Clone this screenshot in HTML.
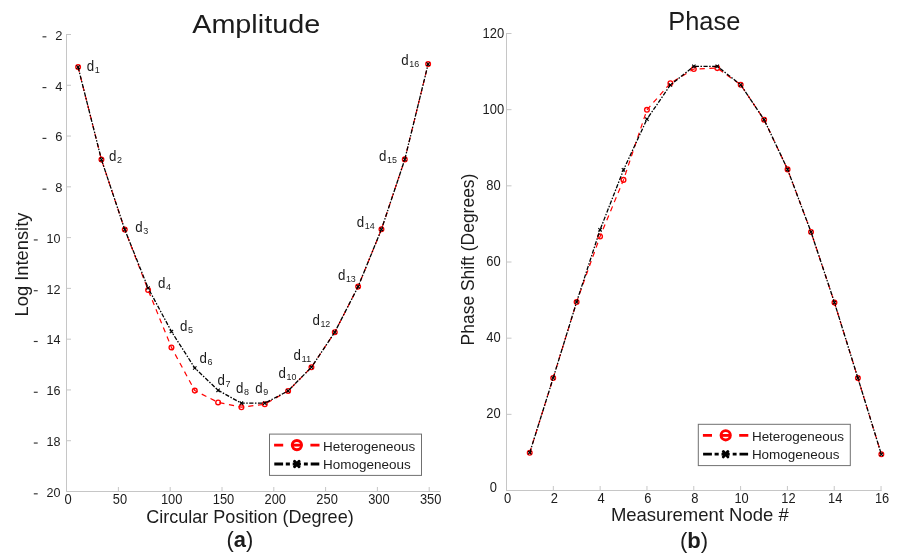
<!DOCTYPE html><html><head><meta charset="utf-8"><title>chart</title><style>html,body{margin:0;padding:0;background:#fff}svg{display:block;will-change:transform;opacity:0.999}text{font-family:"Liberation Sans",sans-serif;fill:#1c1c1c}</style></head><body>
<svg width="906" height="557" viewBox="0 0 906 557">
<rect width="906" height="557" fill="#fff"/>
<line x1="66.50" y1="34.00" x2="66.50" y2="492.00" stroke="#c6c6c6" stroke-width="1"/>
<line x1="66.00" y1="491.50" x2="440.30" y2="491.50" stroke="#c6c6c6" stroke-width="1"/>
<line x1="66.50" y1="34.50" x2="71.00" y2="34.50" stroke="#c6c6c6" stroke-width="1"/>
<text x="62.50" y="39.80" font-size="13.4" text-anchor="end" textLength="7.2" lengthAdjust="spacingAndGlyphs" fill="#333333">2</text>
<rect x="42.50" y="36.25" width="3.9" height="1.15" fill="#333333"/>
<line x1="66.50" y1="85.28" x2="71.00" y2="85.28" stroke="#c6c6c6" stroke-width="1"/>
<text x="62.50" y="90.58" font-size="13.4" text-anchor="end" textLength="7.2" lengthAdjust="spacingAndGlyphs" fill="#333333">4</text>
<rect x="42.50" y="87.03" width="3.9" height="1.15" fill="#333333"/>
<line x1="66.50" y1="136.06" x2="71.00" y2="136.06" stroke="#c6c6c6" stroke-width="1"/>
<text x="62.50" y="141.36" font-size="13.4" text-anchor="end" textLength="7.2" lengthAdjust="spacingAndGlyphs" fill="#333333">6</text>
<rect x="42.50" y="137.81" width="3.9" height="1.15" fill="#333333"/>
<line x1="66.50" y1="186.83" x2="71.00" y2="186.83" stroke="#c6c6c6" stroke-width="1"/>
<text x="62.50" y="192.13" font-size="13.4" text-anchor="end" textLength="7.2" lengthAdjust="spacingAndGlyphs" fill="#333333">8</text>
<rect x="42.50" y="188.58" width="3.9" height="1.15" fill="#333333"/>
<line x1="66.50" y1="237.61" x2="71.00" y2="237.61" stroke="#c6c6c6" stroke-width="1"/>
<text x="60.60" y="242.91" font-size="13.4" text-anchor="end" textLength="14.0" lengthAdjust="spacingAndGlyphs" fill="#333333">10</text>
<rect x="33.80" y="239.36" width="3.9" height="1.15" fill="#333333"/>
<line x1="66.50" y1="288.39" x2="71.00" y2="288.39" stroke="#c6c6c6" stroke-width="1"/>
<text x="60.60" y="293.69" font-size="13.4" text-anchor="end" textLength="14.0" lengthAdjust="spacingAndGlyphs" fill="#333333">12</text>
<rect x="33.80" y="290.14" width="3.9" height="1.15" fill="#333333"/>
<line x1="66.50" y1="339.17" x2="71.00" y2="339.17" stroke="#c6c6c6" stroke-width="1"/>
<text x="60.60" y="344.47" font-size="13.4" text-anchor="end" textLength="14.0" lengthAdjust="spacingAndGlyphs" fill="#333333">14</text>
<rect x="33.80" y="340.92" width="3.9" height="1.15" fill="#333333"/>
<line x1="66.50" y1="389.94" x2="71.00" y2="389.94" stroke="#c6c6c6" stroke-width="1"/>
<text x="60.60" y="395.24" font-size="13.4" text-anchor="end" textLength="14.0" lengthAdjust="spacingAndGlyphs" fill="#333333">16</text>
<rect x="33.80" y="391.69" width="3.9" height="1.15" fill="#333333"/>
<line x1="66.50" y1="440.72" x2="71.00" y2="440.72" stroke="#c6c6c6" stroke-width="1"/>
<text x="60.60" y="446.02" font-size="13.4" text-anchor="end" textLength="14.0" lengthAdjust="spacingAndGlyphs" fill="#333333">18</text>
<rect x="33.80" y="442.47" width="3.9" height="1.15" fill="#333333"/>
<text x="60.60" y="496.80" font-size="13.4" text-anchor="end" textLength="14.0" lengthAdjust="spacingAndGlyphs" fill="#333333">20</text>
<rect x="33.80" y="493.25" width="3.9" height="1.15" fill="#333333"/>
<text x="68.10" y="503.80" font-size="13.8" text-anchor="middle" textLength="7.2" lengthAdjust="spacingAndGlyphs" fill="#333333">0</text>
<line x1="118.40" y1="491.50" x2="118.40" y2="487.00" stroke="#c6c6c6" stroke-width="1"/>
<text x="119.90" y="503.80" font-size="13.8" text-anchor="middle" textLength="14.3" lengthAdjust="spacingAndGlyphs" fill="#333333">50</text>
<line x1="170.20" y1="491.50" x2="170.20" y2="487.00" stroke="#c6c6c6" stroke-width="1"/>
<text x="171.70" y="503.80" font-size="13.8" text-anchor="middle" textLength="21.5" lengthAdjust="spacingAndGlyphs" fill="#333333">100</text>
<line x1="222.00" y1="491.50" x2="222.00" y2="487.00" stroke="#c6c6c6" stroke-width="1"/>
<text x="223.50" y="503.80" font-size="13.8" text-anchor="middle" textLength="21.5" lengthAdjust="spacingAndGlyphs" fill="#333333">150</text>
<line x1="273.80" y1="491.50" x2="273.80" y2="487.00" stroke="#c6c6c6" stroke-width="1"/>
<text x="275.30" y="503.80" font-size="13.8" text-anchor="middle" textLength="21.5" lengthAdjust="spacingAndGlyphs" fill="#333333">200</text>
<line x1="325.60" y1="491.50" x2="325.60" y2="487.00" stroke="#c6c6c6" stroke-width="1"/>
<text x="327.10" y="503.80" font-size="13.8" text-anchor="middle" textLength="21.5" lengthAdjust="spacingAndGlyphs" fill="#333333">250</text>
<line x1="377.40" y1="491.50" x2="377.40" y2="487.00" stroke="#c6c6c6" stroke-width="1"/>
<text x="378.90" y="503.80" font-size="13.8" text-anchor="middle" textLength="21.5" lengthAdjust="spacingAndGlyphs" fill="#333333">300</text>
<line x1="429.20" y1="491.50" x2="429.20" y2="487.00" stroke="#c6c6c6" stroke-width="1"/>
<text x="430.70" y="503.80" font-size="13.8" text-anchor="middle" textLength="21.5" lengthAdjust="spacingAndGlyphs" fill="#333333">350</text>
<line x1="506.50" y1="33.00" x2="506.50" y2="491.00" stroke="#c6c6c6" stroke-width="1"/>
<line x1="506.00" y1="490.50" x2="881.60" y2="490.50" stroke="#c6c6c6" stroke-width="1"/>
<text x="493.40" y="492.30" font-size="13.8" text-anchor="middle" textLength="7.2" lengthAdjust="spacingAndGlyphs" fill="#333333">0</text>
<line x1="506.50" y1="414.33" x2="511.50" y2="414.33" stroke="#c6c6c6" stroke-width="1"/>
<text x="493.40" y="418.43" font-size="13.8" text-anchor="middle" textLength="14.4" lengthAdjust="spacingAndGlyphs" fill="#333333">20</text>
<line x1="506.50" y1="338.17" x2="511.50" y2="338.17" stroke="#c6c6c6" stroke-width="1"/>
<text x="493.40" y="342.27" font-size="13.8" text-anchor="middle" textLength="14.4" lengthAdjust="spacingAndGlyphs" fill="#333333">40</text>
<line x1="506.50" y1="262.00" x2="511.50" y2="262.00" stroke="#c6c6c6" stroke-width="1"/>
<text x="493.40" y="266.10" font-size="13.8" text-anchor="middle" textLength="14.4" lengthAdjust="spacingAndGlyphs" fill="#333333">60</text>
<line x1="506.50" y1="185.83" x2="511.50" y2="185.83" stroke="#c6c6c6" stroke-width="1"/>
<text x="493.40" y="189.93" font-size="13.8" text-anchor="middle" textLength="14.4" lengthAdjust="spacingAndGlyphs" fill="#333333">80</text>
<line x1="506.50" y1="109.67" x2="511.50" y2="109.67" stroke="#c6c6c6" stroke-width="1"/>
<text x="493.40" y="113.77" font-size="13.8" text-anchor="middle" textLength="21.6" lengthAdjust="spacingAndGlyphs" fill="#333333">100</text>
<line x1="506.50" y1="33.50" x2="511.50" y2="33.50" stroke="#c6c6c6" stroke-width="1"/>
<text x="493.40" y="37.60" font-size="13.8" text-anchor="middle" textLength="21.6" lengthAdjust="spacingAndGlyphs" fill="#333333">120</text>
<text x="507.50" y="503.20" font-size="13.8" text-anchor="middle" textLength="7.2" lengthAdjust="spacingAndGlyphs" fill="#333333">0</text>
<line x1="553.32" y1="490.50" x2="553.32" y2="486.00" stroke="#c6c6c6" stroke-width="1"/>
<text x="554.32" y="503.20" font-size="13.8" text-anchor="middle" textLength="7.2" lengthAdjust="spacingAndGlyphs" fill="#333333">2</text>
<line x1="600.14" y1="490.50" x2="600.14" y2="486.00" stroke="#c6c6c6" stroke-width="1"/>
<text x="601.14" y="503.20" font-size="13.8" text-anchor="middle" textLength="7.2" lengthAdjust="spacingAndGlyphs" fill="#333333">4</text>
<line x1="646.96" y1="490.50" x2="646.96" y2="486.00" stroke="#c6c6c6" stroke-width="1"/>
<text x="647.96" y="503.20" font-size="13.8" text-anchor="middle" textLength="7.2" lengthAdjust="spacingAndGlyphs" fill="#333333">6</text>
<line x1="693.78" y1="490.50" x2="693.78" y2="486.00" stroke="#c6c6c6" stroke-width="1"/>
<text x="694.78" y="503.20" font-size="13.8" text-anchor="middle" textLength="7.2" lengthAdjust="spacingAndGlyphs" fill="#333333">8</text>
<line x1="740.60" y1="490.50" x2="740.60" y2="486.00" stroke="#c6c6c6" stroke-width="1"/>
<text x="741.60" y="503.20" font-size="13.8" text-anchor="middle" textLength="14.3" lengthAdjust="spacingAndGlyphs" fill="#333333">10</text>
<line x1="787.42" y1="490.50" x2="787.42" y2="486.00" stroke="#c6c6c6" stroke-width="1"/>
<text x="788.42" y="503.20" font-size="13.8" text-anchor="middle" textLength="14.3" lengthAdjust="spacingAndGlyphs" fill="#333333">12</text>
<line x1="834.24" y1="490.50" x2="834.24" y2="486.00" stroke="#c6c6c6" stroke-width="1"/>
<text x="835.24" y="503.20" font-size="13.8" text-anchor="middle" textLength="14.3" lengthAdjust="spacingAndGlyphs" fill="#333333">14</text>
<line x1="881.06" y1="490.50" x2="881.06" y2="486.00" stroke="#c6c6c6" stroke-width="1"/>
<text x="882.06" y="503.20" font-size="13.8" text-anchor="middle" textLength="14.3" lengthAdjust="spacingAndGlyphs" fill="#333333">16</text>
<polyline points="78.10,67.10 101.44,159.60 124.77,229.60 148.10,290.00 171.44,347.40 194.78,390.60 218.11,402.40 241.44,407.20 264.78,404.30 288.12,390.90 311.45,367.20 334.78,332.20 358.12,286.60 381.46,229.30 404.79,159.40 428.12,64.10" fill="none" stroke="#ff0000" stroke-width="1.2" stroke-dasharray="5.2 4.6"/>
<circle cx="78.10" cy="67.10" r="2.35" fill="none" stroke="#ff0000" stroke-width="1.35"/>
<circle cx="101.44" cy="159.60" r="2.35" fill="none" stroke="#ff0000" stroke-width="1.35"/>
<circle cx="124.77" cy="229.60" r="2.35" fill="none" stroke="#ff0000" stroke-width="1.35"/>
<circle cx="148.10" cy="290.00" r="2.35" fill="none" stroke="#ff0000" stroke-width="1.35"/>
<circle cx="171.44" cy="347.40" r="2.35" fill="none" stroke="#ff0000" stroke-width="1.35"/>
<circle cx="194.78" cy="390.60" r="2.35" fill="none" stroke="#ff0000" stroke-width="1.35"/>
<circle cx="218.11" cy="402.40" r="2.35" fill="none" stroke="#ff0000" stroke-width="1.35"/>
<circle cx="241.44" cy="407.20" r="2.35" fill="none" stroke="#ff0000" stroke-width="1.35"/>
<circle cx="264.78" cy="404.30" r="2.35" fill="none" stroke="#ff0000" stroke-width="1.35"/>
<circle cx="288.12" cy="390.90" r="2.35" fill="none" stroke="#ff0000" stroke-width="1.35"/>
<circle cx="311.45" cy="367.20" r="2.35" fill="none" stroke="#ff0000" stroke-width="1.35"/>
<circle cx="334.78" cy="332.20" r="2.35" fill="none" stroke="#ff0000" stroke-width="1.35"/>
<circle cx="358.12" cy="286.60" r="2.35" fill="none" stroke="#ff0000" stroke-width="1.35"/>
<circle cx="381.46" cy="229.30" r="2.35" fill="none" stroke="#ff0000" stroke-width="1.35"/>
<circle cx="404.79" cy="159.40" r="2.35" fill="none" stroke="#ff0000" stroke-width="1.35"/>
<circle cx="428.12" cy="64.10" r="2.35" fill="none" stroke="#ff0000" stroke-width="1.35"/>
<polyline points="78.10,67.10 101.44,159.60 124.77,229.60 148.10,288.00 171.44,331.50 194.78,368.00 218.11,390.30 241.44,403.20 264.78,403.20 288.12,390.90 311.45,367.20 334.78,332.20 358.12,286.60 381.46,229.30 404.79,159.40 428.12,64.10" fill="none" stroke="#000" stroke-width="1.3" stroke-dasharray="4.2 1.5 1.5 1.5"/>
<path d="M76.40 65.40L79.80 68.80M76.40 68.80L79.80 65.40M99.73 157.90L103.14 161.30M99.73 161.30L103.14 157.90M123.07 227.90L126.47 231.30M123.07 231.30L126.47 227.90M146.41 286.30L149.80 289.70M146.41 289.70L149.80 286.30M169.74 329.80L173.14 333.20M169.74 333.20L173.14 329.80M193.08 366.30L196.47 369.70M193.08 369.70L196.47 366.30M216.41 388.60L219.81 392.00M216.41 392.00L219.81 388.60M239.75 401.50L243.14 404.90M239.75 404.90L243.14 401.50M263.08 401.50L266.48 404.90M263.08 404.90L266.48 401.50M286.42 389.20L289.81 392.60M286.42 392.60L289.81 389.20M309.75 365.50L313.15 368.90M309.75 368.90L313.15 365.50M333.08 330.50L336.48 333.90M333.08 333.90L336.48 330.50M356.42 284.90L359.82 288.30M356.42 288.30L359.82 284.90M379.76 227.60L383.16 231.00M379.76 231.00L383.16 227.60M403.09 157.70L406.49 161.10M403.09 161.10L406.49 157.70M426.43 62.40L429.82 65.80M426.43 65.80L429.82 62.40" stroke="#000" stroke-width="1.1" fill="none"/>
<polyline points="529.74,452.70 553.18,378.00 576.62,302.00 600.06,236.50 623.50,179.90 646.94,109.80 670.38,83.20 693.82,69.00 717.26,68.10 740.70,84.80 764.14,119.70 787.58,169.40 811.02,232.00 834.46,302.60 857.90,378.10 881.34,454.30" fill="none" stroke="#ff0000" stroke-width="1.2" stroke-dasharray="5.2 4.6"/>
<circle cx="529.74" cy="452.70" r="2.35" fill="none" stroke="#ff0000" stroke-width="1.35"/>
<circle cx="553.18" cy="378.00" r="2.35" fill="none" stroke="#ff0000" stroke-width="1.35"/>
<circle cx="576.62" cy="302.00" r="2.35" fill="none" stroke="#ff0000" stroke-width="1.35"/>
<circle cx="600.06" cy="236.50" r="2.35" fill="none" stroke="#ff0000" stroke-width="1.35"/>
<circle cx="623.50" cy="179.90" r="2.35" fill="none" stroke="#ff0000" stroke-width="1.35"/>
<circle cx="646.94" cy="109.80" r="2.35" fill="none" stroke="#ff0000" stroke-width="1.35"/>
<circle cx="670.38" cy="83.20" r="2.35" fill="none" stroke="#ff0000" stroke-width="1.35"/>
<circle cx="693.82" cy="69.00" r="2.35" fill="none" stroke="#ff0000" stroke-width="1.35"/>
<circle cx="717.26" cy="68.10" r="2.35" fill="none" stroke="#ff0000" stroke-width="1.35"/>
<circle cx="740.70" cy="84.80" r="2.35" fill="none" stroke="#ff0000" stroke-width="1.35"/>
<circle cx="764.14" cy="119.70" r="2.35" fill="none" stroke="#ff0000" stroke-width="1.35"/>
<circle cx="787.58" cy="169.40" r="2.35" fill="none" stroke="#ff0000" stroke-width="1.35"/>
<circle cx="811.02" cy="232.00" r="2.35" fill="none" stroke="#ff0000" stroke-width="1.35"/>
<circle cx="834.46" cy="302.60" r="2.35" fill="none" stroke="#ff0000" stroke-width="1.35"/>
<circle cx="857.90" cy="378.10" r="2.35" fill="none" stroke="#ff0000" stroke-width="1.35"/>
<circle cx="881.34" cy="454.30" r="2.35" fill="none" stroke="#ff0000" stroke-width="1.35"/>
<polyline points="529.74,452.70 553.18,378.00 576.62,302.00 600.06,229.80 623.50,169.90 646.94,119.20 670.38,85.00 693.82,66.30 717.26,66.30 740.70,84.80 764.14,119.70 787.58,169.40 811.02,232.00 834.46,302.60 857.90,378.10 881.34,454.30" fill="none" stroke="#000" stroke-width="1.3" stroke-dasharray="4.2 1.5 1.5 1.5"/>
<path d="M528.04 451.00L531.44 454.40M528.04 454.40L531.44 451.00M551.48 376.30L554.88 379.70M551.48 379.70L554.88 376.30M574.92 300.30L578.32 303.70M574.92 303.70L578.32 300.30M598.36 228.10L601.76 231.50M598.36 231.50L601.76 228.10M621.80 168.20L625.20 171.60M621.80 171.60L625.20 168.20M645.24 117.50L648.64 120.90M645.24 120.90L648.64 117.50M668.68 83.30L672.08 86.70M668.68 86.70L672.08 83.30M692.12 64.60L695.52 68.00M692.12 68.00L695.52 64.60M715.56 64.60L718.96 68.00M715.56 68.00L718.96 64.60M739.00 83.10L742.40 86.50M739.00 86.50L742.40 83.10M762.44 118.00L765.84 121.40M762.44 121.40L765.84 118.00M785.88 167.70L789.28 171.10M785.88 171.10L789.28 167.70M809.32 230.30L812.72 233.70M809.32 233.70L812.72 230.30M832.76 300.90L836.16 304.30M832.76 304.30L836.16 300.90M856.20 376.40L859.60 379.80M856.20 379.80L859.60 376.40M879.64 452.60L883.04 456.00M879.64 456.00L883.04 452.60" stroke="#000" stroke-width="1.1" fill="none"/>
<text x="86.70" y="70.80" font-size="13.9" text-anchor="start" textLength="7.4" lengthAdjust="spacingAndGlyphs" fill="#333333">d</text>
<text x="94.70" y="72.80" font-size="9.7" text-anchor="start" textLength="5.0" lengthAdjust="spacingAndGlyphs" fill="#333333">1</text>
<text x="109.10" y="160.90" font-size="13.9" text-anchor="start" textLength="7.4" lengthAdjust="spacingAndGlyphs" fill="#333333">d</text>
<text x="117.10" y="162.90" font-size="9.7" text-anchor="start" textLength="5.0" lengthAdjust="spacingAndGlyphs" fill="#333333">2</text>
<text x="135.20" y="232.00" font-size="13.9" text-anchor="start" textLength="7.4" lengthAdjust="spacingAndGlyphs" fill="#333333">d</text>
<text x="143.20" y="234.00" font-size="9.7" text-anchor="start" textLength="5.0" lengthAdjust="spacingAndGlyphs" fill="#333333">3</text>
<text x="158.00" y="288.40" font-size="13.9" text-anchor="start" textLength="7.4" lengthAdjust="spacingAndGlyphs" fill="#333333">d</text>
<text x="166.00" y="290.40" font-size="9.7" text-anchor="start" textLength="5.0" lengthAdjust="spacingAndGlyphs" fill="#333333">4</text>
<text x="180.10" y="331.30" font-size="13.9" text-anchor="start" textLength="7.4" lengthAdjust="spacingAndGlyphs" fill="#333333">d</text>
<text x="188.10" y="333.30" font-size="9.7" text-anchor="start" textLength="5.0" lengthAdjust="spacingAndGlyphs" fill="#333333">5</text>
<text x="199.50" y="363.00" font-size="13.9" text-anchor="start" textLength="7.4" lengthAdjust="spacingAndGlyphs" fill="#333333">d</text>
<text x="207.50" y="365.00" font-size="9.7" text-anchor="start" textLength="5.0" lengthAdjust="spacingAndGlyphs" fill="#333333">6</text>
<text x="217.40" y="384.50" font-size="13.9" text-anchor="start" textLength="7.4" lengthAdjust="spacingAndGlyphs" fill="#333333">d</text>
<text x="225.40" y="386.50" font-size="9.7" text-anchor="start" textLength="5.0" lengthAdjust="spacingAndGlyphs" fill="#333333">7</text>
<text x="236.10" y="392.60" font-size="13.9" text-anchor="start" textLength="7.4" lengthAdjust="spacingAndGlyphs" fill="#333333">d</text>
<text x="244.10" y="394.60" font-size="9.7" text-anchor="start" textLength="5.0" lengthAdjust="spacingAndGlyphs" fill="#333333">8</text>
<text x="255.20" y="392.60" font-size="13.9" text-anchor="start" textLength="7.4" lengthAdjust="spacingAndGlyphs" fill="#333333">d</text>
<text x="263.20" y="394.60" font-size="9.7" text-anchor="start" textLength="5.0" lengthAdjust="spacingAndGlyphs" fill="#333333">9</text>
<text x="278.50" y="377.50" font-size="13.9" text-anchor="start" textLength="7.4" lengthAdjust="spacingAndGlyphs" fill="#333333">d</text>
<text x="286.50" y="379.50" font-size="9.7" text-anchor="start" textLength="9.9" lengthAdjust="spacingAndGlyphs" fill="#333333">10</text>
<text x="293.50" y="360.10" font-size="13.9" text-anchor="start" textLength="7.4" lengthAdjust="spacingAndGlyphs" fill="#333333">d</text>
<text x="301.50" y="362.10" font-size="9.7" text-anchor="start" textLength="9.9" lengthAdjust="spacingAndGlyphs" fill="#333333">11</text>
<text x="312.40" y="325.40" font-size="13.9" text-anchor="start" textLength="7.4" lengthAdjust="spacingAndGlyphs" fill="#333333">d</text>
<text x="320.40" y="327.40" font-size="9.7" text-anchor="start" textLength="9.9" lengthAdjust="spacingAndGlyphs" fill="#333333">12</text>
<text x="337.90" y="279.70" font-size="13.9" text-anchor="start" textLength="7.4" lengthAdjust="spacingAndGlyphs" fill="#333333">d</text>
<text x="345.90" y="281.70" font-size="9.7" text-anchor="start" textLength="9.9" lengthAdjust="spacingAndGlyphs" fill="#333333">13</text>
<text x="356.80" y="226.90" font-size="13.9" text-anchor="start" textLength="7.4" lengthAdjust="spacingAndGlyphs" fill="#333333">d</text>
<text x="364.80" y="228.90" font-size="9.7" text-anchor="start" textLength="9.9" lengthAdjust="spacingAndGlyphs" fill="#333333">14</text>
<text x="379.10" y="161.10" font-size="13.9" text-anchor="start" textLength="7.4" lengthAdjust="spacingAndGlyphs" fill="#333333">d</text>
<text x="387.10" y="163.10" font-size="9.7" text-anchor="start" textLength="9.9" lengthAdjust="spacingAndGlyphs" fill="#333333">15</text>
<text x="401.20" y="64.70" font-size="13.9" text-anchor="start" textLength="7.4" lengthAdjust="spacingAndGlyphs" fill="#333333">d</text>
<text x="409.20" y="66.70" font-size="9.7" text-anchor="start" textLength="9.9" lengthAdjust="spacingAndGlyphs" fill="#333333">16</text>
<text x="192.20" y="33.00" font-size="26.6" text-anchor="start" textLength="128.0" lengthAdjust="spacingAndGlyphs" >Amplitude</text>
<text x="668.30" y="30.40" font-size="26.6" text-anchor="start" textLength="72.0" lengthAdjust="spacingAndGlyphs" >Phase</text>
<text x="146.20" y="523.20" font-size="17.8" text-anchor="start" textLength="207.5" lengthAdjust="spacingAndGlyphs" >Circular Position (Degree)</text>
<text x="610.90" y="521.30" font-size="17.8" text-anchor="start" textLength="177.8" lengthAdjust="spacingAndGlyphs" >Measurement Node #</text>
<text transform="translate(28.1,316.4) rotate(-90)" font-size="17.8" textLength="103.8" lengthAdjust="spacingAndGlyphs">Log Intensity</text>
<text transform="translate(473.6,345.4) rotate(-90)" font-size="17.8" textLength="171.8" lengthAdjust="spacingAndGlyphs">Phase Shift (Degrees)</text>
<text x="226.5" y="547.0" font-size="22" textLength="26.8" lengthAdjust="spacingAndGlyphs">(<tspan font-weight="bold">a</tspan>)</text>
<text x="679.9" y="547.5" font-size="22" textLength="28.2" lengthAdjust="spacingAndGlyphs">(<tspan font-weight="bold">b</tspan>)</text>
<rect x="269.50" y="434.10" width="152" height="41.3" fill="#fff" stroke="#707070" stroke-width="1"/>
<path d="M274.10 445.10h9.1M310.40 445.10h9.1M292.30 445.10h9.2" stroke="#ff0000" stroke-width="2.8" fill="none"/>
<path d="M292.30 445.10h9.2" stroke="#ff0000" stroke-width="2.1" fill="none"/>
<circle cx="296.90" cy="445.10" r="4.65" fill="none" stroke="#ff0000" stroke-width="2.9"/>
<path d="M274.30 464.00h8.8M285.80 464.00h4.1M303.90 464.00h3.9M310.70 464.00h8.6" stroke="#000" stroke-width="2.8" fill="none"/>
<path d="M294.50 461.30l4.6 5.4M299.10 461.30l-4.6 5.4" stroke="#000" stroke-width="2.9" stroke-linecap="round" fill="none"/><path d="M292.70 464.00h8.2" stroke="#000" stroke-width="2.8" fill="none"/>
<text x="323.10" y="450.60" font-size="13.33" text-anchor="start" textLength="92.2" lengthAdjust="spacingAndGlyphs" fill="#000">Heterogeneous</text>
<text x="323.10" y="469.10" font-size="13.33" text-anchor="start" textLength="87.6" lengthAdjust="spacingAndGlyphs" fill="#000">Homogeneous</text>
<rect x="698.30" y="424.30" width="152" height="41.3" fill="#fff" stroke="#707070" stroke-width="1"/>
<path d="M702.90 435.30h9.1M739.20 435.30h9.1M721.10 435.30h9.2" stroke="#ff0000" stroke-width="2.8" fill="none"/>
<path d="M721.10 435.30h9.2" stroke="#ff0000" stroke-width="2.1" fill="none"/>
<circle cx="725.70" cy="435.30" r="4.65" fill="none" stroke="#ff0000" stroke-width="2.9"/>
<path d="M703.10 454.20h8.8M714.60 454.20h4.1M732.70 454.20h3.9M739.50 454.20h8.6" stroke="#000" stroke-width="2.8" fill="none"/>
<path d="M723.30 451.50l4.6 5.4M727.90 451.50l-4.6 5.4" stroke="#000" stroke-width="2.9" stroke-linecap="round" fill="none"/><path d="M721.50 454.20h8.2" stroke="#000" stroke-width="2.8" fill="none"/>
<text x="751.90" y="440.80" font-size="13.33" text-anchor="start" textLength="92.2" lengthAdjust="spacingAndGlyphs" fill="#000">Heterogeneous</text>
<text x="751.90" y="459.30" font-size="13.33" text-anchor="start" textLength="87.6" lengthAdjust="spacingAndGlyphs" fill="#000">Homogeneous</text>
</svg></body></html>
